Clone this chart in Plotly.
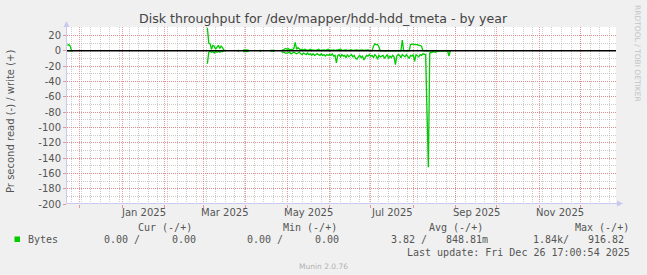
import pandas as pd
import plotly.graph_objects as go

# ---------------- data (daily averages, one segment per stretch of data) ----------------
seg_starts = ["2024-11-22", "2025-03-04", "2025-03-26", "2025-03-30",
              "2025-04-11", "2025-04-19", "2025-04-27"]

seg_write = [
    [7, 8, 6, 0.5, 0],
    [30, 10, 9, 2, 7, 6, 2, 5, 7, 3, 6, 4, 1, 0],
    [0.5, 0.5],
    [1, 1, 1, 1, 1],
    [0.5, 0.5],
    [0.5, 0.5, 0.5, 0.5],
    [0, 1, 2, 3,
     2, 3, 1, 2, 1, 3, 11, 2, 4, 3,
     1, 2, 1, 2, 1, 0.5, 1, 2, 1, 0.5,
     1, 0.5, 1, 2, 0.5, 1, 0.5, 1, 0.5, 1, 2,
     0.5, 1, 0.5, 1, 0.5, 1, 0.5, 1, 2, 0.5,
     1, 0.5, 1, 0.5, 1, 0.5, 1, 0.5, 1, 0.5,
     1, 0.5, 1, 0.5, 1, 0.5, 1, 0.5, 1, 0.5,
     0, 0, 6, 9, 8, 8, 5, 0, 0, 0,
     0, 0, 0, 0, 0, 0, 0, 0, 0, 0,
     0, 0, 0, 14, 0, 0, 0, 0, 0, 8, 9,
     9, 8, 8, 8, 7, 7, 6, 0, 0, 0,
     0, 0, 0, 0, 0, 0, 0, 0, 0, 0,
     0, 0, 0, 0, 0, 0, 0, 0],
]

seg_read = [
    [0, 0, 0, 0, 0],
    [17, 2, 1, 2, 1, 3, 1, 2, 1, 2, 1, 1, 0, 0],
    [0.5, 0.5],
    [1, 1, 1, 1, 1],
    [0.5, 0.5],
    [0.5, 0.5, 0.5, 0.5],
    [1, 2, 2, 3,
     3, 2, 2, 4, 3, 2, 3, 4, 3, 2,
     4, 5, 3, 4, 5, 3, 5, 4, 6, 4,
     6, 5, 4, 5, 6, 4, 6, 5, 7, 5, 6,
     5, 6, 4, 7, 6, 16, 6, 5, 8, 5,
     7, 6, 9, 5, 8, 6, 5, 8, 6, 10,
     11, 8, 6, 9, 7, 12, 8, 6, 7, 5,
     7, 6, 9, 5, 7, 11, 6, 8, 7, 6,
     10, 7, 5, 10, 7, 9, 6, 8, 18, 7,
     5, 6, 9, 5, 6, 8, 5, 8, 10, 6, 7,
     5, 14, 5, 6, 8, 5, 6, 4, 5, 5,
     80, 152, 3, 2, 2, 1, 2, 1, 0, 0,
     0, 0, 0, 0, 0, 0, 7, 0],
]

y_ticks = [-200, -180, -160, -140, -120, -100, -80, -60, -40, -20, 0, 20]
x_label_text = ["Jan 2025", "Mar 2025", "May 2025", "Jul 2025", "Sep 2025", "Nov 2025"]
x_label_pos = ["2025-01-16 12:00", "2025-03-16 12:00", "2025-05-16 12:00",
               "2025-07-16 12:00", "2025-09-16", "2025-11-16"]
month_starts = ["2024-12-01", "2025-01-01", "2025-02-01", "2025-03-01", "2025-04-01",
                "2025-05-01", "2025-06-01", "2025-07-01", "2025-08-01", "2025-09-01",
                "2025-10-01", "2025-11-01", "2025-12-01"]

legend_headers = ["Cur (-/+)", "Min (-/+)", "Avg (-/+)", "Max (-/+)"]
legend_read = ["0.00 /", "0.00 /", "3.82 /", "1.84k/"]
legend_write = ["0.00", "0.00", "848.81m", "916.82"]

title = "Disk throughput for /dev/mapper/hdd-hdd_tmeta - by year"
y_title = "Pr second read (-) / write (+)"
last_update = "Last update: Fri Dec 26 17:00:54 2025"

# ---------------- build the series (gaps between segments) ----------------
xs, ws, rs = [], [], []
for start, wv, rv in zip(seg_starts, seg_write, seg_read):
    d = pd.date_range(start, periods=len(wv), freq="D")
    if xs:
        xs.append(d[0] - pd.Timedelta(hours=12))
        ws.append(None)
        rs.append(None)
    xs.extend(d)
    ws.extend(wv)
    rs.extend(-v for v in rv)

# ---------------- layout helpers ----------------
W, H = 647, 275
L, R, T, B = 67, 616, 27, 204


def px(x):
    return (x - L) / (R - L)


def py(y):
    return (B - y) / (B - T)


GREEN = "#00CC00"
TXT = "#555555"
SANS = "DejaVu Sans"
MONO = "DejaVu Sans Mono"

fig = go.Figure()
fig.add_trace(go.Scatter(x=xs, y=ws, mode="lines",
                         line=dict(color=GREEN, width=1.3), hoverinfo="skip",
                         showlegend=False))
fig.add_trace(go.Scatter(x=xs, y=rs, mode="lines",
                         line=dict(color=GREEN, width=1.3), hoverinfo="skip",
                         showlegend=False))

MAJ = "rgba(225,120,120,0.75)"
MIN = "rgba(170,170,170,0.6)"

fig.update_layout(
    width=W, height=H,
    margin=dict(l=L, r=W - R, t=T, b=H - B, pad=0),
    paper_bgcolor="#F0F0F0", plot_bgcolor="#FFFFFF",
    showlegend=False,
    xaxis=dict(type="date", range=["2024-11-21 17:00:54", "2025-12-26 17:00:54"],
               tickmode="array", tickvals=month_starts, ticktext=[""] * len(month_starts),
               showgrid=True, gridcolor=MAJ, griddash="1px,1px", gridwidth=1,
               ticks="outside", ticklen=3, tickcolor=MAJ,
               minor=dict(dtick=7 * 86400000, tick0="2024-11-25", showgrid=True,
                          gridcolor=MIN, griddash="1px,1px", gridwidth=1),
               showline=False, zeroline=False, fixedrange=True),
    yaxis=dict(range=[-200, 31], tickmode="array", tickvals=y_ticks,
               ticktext=[str(v) for v in y_ticks],
               showgrid=True, gridcolor=MAJ, griddash="1px,1px", gridwidth=1,
               ticks="outside", ticklen=3, tickcolor=MAJ,
               tickfont=dict(family=SANS, size=10, color=TXT),
               minor=dict(dtick=10, tick0=0, showgrid=True, gridcolor=MIN,
                          griddash="1px,1px", gridwidth=1),
               showline=False, zeroline=False, fixedrange=True),
)

AX = "#C8C8F0"
shapes = [
    dict(type="line", xref="paper", yref="y", x0=0, x1=1, y0=0, y1=0,
         line=dict(color="#000000", width=1.5), layer="above"),
    dict(type="line", xref="paper", yref="paper", x0=px(66.5), x1=px(66.5),
         y0=py(B), y1=py(24), line=dict(color=AX, width=1)),
    dict(type="line", xref="paper", yref="paper", x0=px(L), x1=px(619),
         y0=py(203.5), y1=py(203.5), line=dict(color=AX, width=1)),
    dict(type="path", xref="paper", yref="paper",
         path=f"M {px(63.5)} {py(27)} L {px(66.5)} {py(21)} L {px(69.5)} {py(27)} Z",
         fillcolor=AX, line=dict(width=0)),
    dict(type="path", xref="paper", yref="paper",
         path=f"M {px(617)} {py(200.5)} L {px(623)} {py(203.5)} L {px(617)} {py(206.5)} Z",
         fillcolor=AX, line=dict(width=0)),
    dict(type="rect", xref="paper", yref="paper", x0=px(14.5), x1=px(20),
         y0=py(242), y1=py(236.5), fillcolor=GREEN, line=dict(width=0)),
]
fig.update_layout(shapes=shapes)

ann = []
ann.append(dict(text=title, xref="paper", yref="paper", x=px(323), y=py(19),
                xanchor="center", yanchor="middle", showarrow=False,
                font=dict(family=SANS, size=12.6, color="#444444")))
ann.append(dict(text=y_title, xref="paper", yref="paper", x=px(10), y=py(122),
                xanchor="center", yanchor="middle", showarrow=False, textangle=-90,
                font=dict(family=SANS, size=10, color=TXT)))
ann.append(dict(text="RRDTOOL / TOBI OETIKER", xref="paper", yref="paper",
                x=px(638), y=py(53), xanchor="center", yanchor="middle",
                showarrow=False, textangle=90,
                font=dict(family=SANS, size=7.5, color="#C4C4C4")))
for t, d in zip(x_label_text, x_label_pos):
    ann.append(dict(text=t, xref="x", yref="paper", x=d, y=py(212.5),
                    xanchor="center", yanchor="middle", showarrow=False,
                    font=dict(family=SANS, size=10, color=TXT)))

hdr_x = [136, 281, 427, 573]
rd_end = [142, 285, 429, 571]
wr_end = [198, 341, 490, 626]
for h, x0 in zip(legend_headers, hdr_x):
    ann.append(dict(text=h, xref="paper", yref="paper", x=px(x0), y=py(227.5),
                    xanchor="left", yanchor="middle", showarrow=False,
                    font=dict(family=MONO, size=10, color=TXT)))
ann.append(dict(text="Bytes", xref="paper", yref="paper", x=px(26), y=py(239.5),
                xanchor="left", yanchor="middle", showarrow=False,
                font=dict(family=MONO, size=10, color=TXT)))
for r_, w_, xr, xw in zip(legend_read, legend_write, rd_end, wr_end):
    ann.append(dict(text=r_, xref="paper", yref="paper", x=px(xr), y=py(239.5),
                    xanchor="right", yanchor="middle", showarrow=False,
                    font=dict(family=MONO, size=10, color=TXT)))
    ann.append(dict(text=w_, xref="paper", yref="paper", x=px(xw), y=py(239.5),
                    xanchor="right", yanchor="middle", showarrow=False,
                    font=dict(family=MONO, size=10, color=TXT)))
ann.append(dict(text=last_update, xref="paper", yref="paper", x=px(632), y=py(252),
                xanchor="right", yanchor="middle", showarrow=False,
                font=dict(family=MONO, size=10, color=TXT)))
ann.append(dict(text="Munin 2.0.76", xref="paper", yref="paper", x=px(323), y=py(266),
                xanchor="center", yanchor="middle", showarrow=False,
                font=dict(family=SANS, size=7.5, color="#B0B0B0")))
fig.update_layout(annotations=ann)

fig.write_html("out.html")
